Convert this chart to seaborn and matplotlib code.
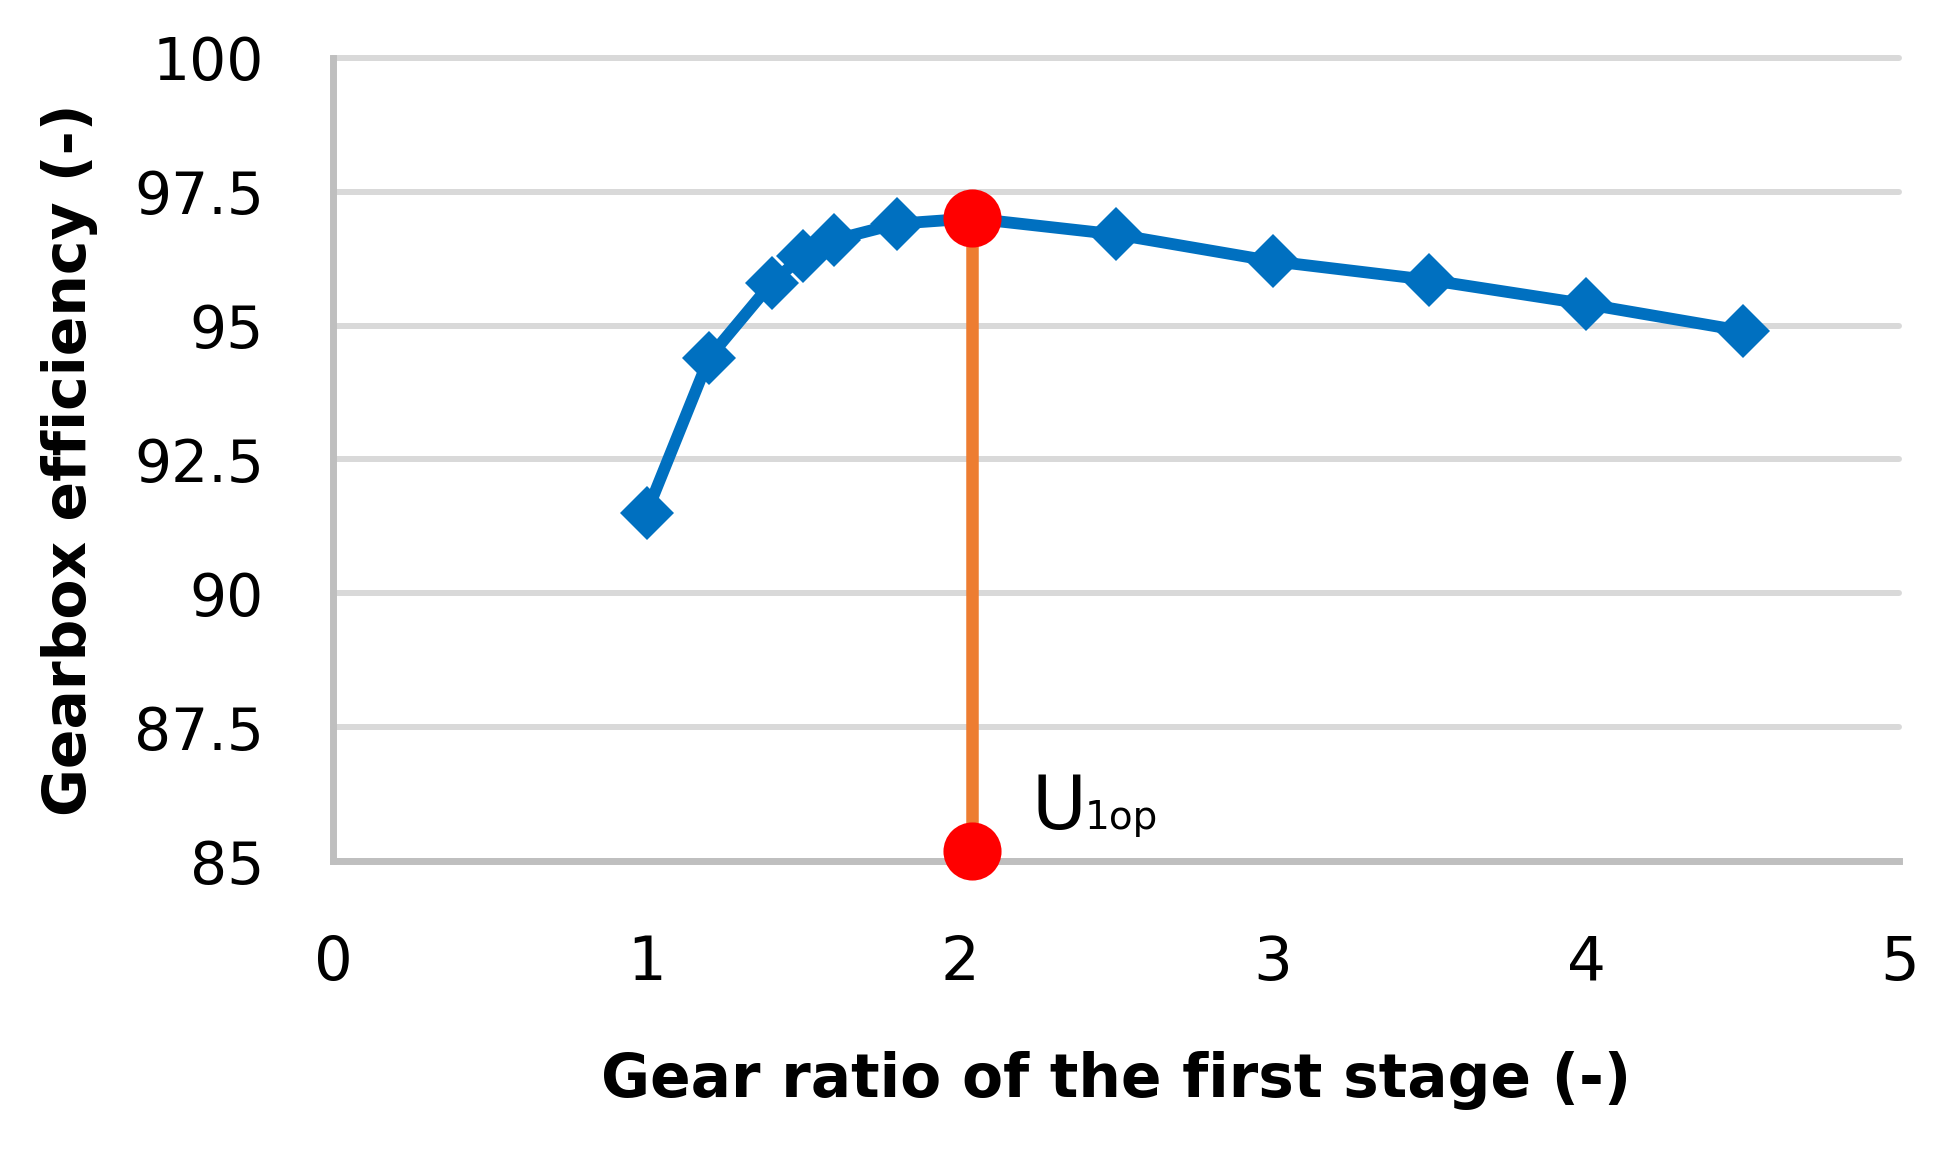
import numpy as np
import pandas as pd
import matplotlib
matplotlib.use('Agg')
import matplotlib.pyplot as plt
import seaborn as sns

# data
gear_ratio = [1.0, 1.2, 1.4, 1.5, 1.6, 1.8, 2.04, 2.5, 3.0, 3.5, 4.0, 4.5]
efficiency = [91.5, 94.4, 95.8, 96.3, 96.6, 96.9, 97.0, 96.7, 96.2, 95.85, 95.4, 94.9]
u_opt = 2.04
eff_opt = 97.0
eff_base = 85.2
y_ticks = [85, 87.5, 90, 92.5, 95, 97.5, 100]
y_ticklabels = ['85', '87.5', '90', '92.5', '95', '97.5', '100']
x_ticks = [0, 1, 2, 3, 4, 5]

sns.set_style('white')
plt.rcParams['font.family'] = ['DejaVu Sans']

fig, ax = plt.subplots(figsize=(19.38, 11.53), dpi=100)
fig.subplots_adjust(left=0.172, right=0.980, bottom=0.253, top=0.950)

df = pd.DataFrame({'ratio': gear_ratio, 'eff': efficiency})
sns.lineplot(data=df, x='ratio', y='eff', color='#0070C0', linewidth=8.5,
             marker='D', markersize=27, markeredgewidth=0, ax=ax, zorder=3)

# optimum marker line
ax.vlines(u_opt, eff_base, eff_opt, color='#ED7D31', linewidth=9, zorder=4)
sns.scatterplot(x=[u_opt, u_opt], y=[eff_opt, eff_base], s=1750, color='#FF0000',
                linewidth=0, ax=ax, zorder=5, clip_on=False)

ax.text(2.23, 85.6, 'U', fontsize=54, va='baseline', ha='left', color='#000000')
ax.text(2.40, 85.6, '1op', fontsize=28, va='baseline', ha='left', color='#000000')

ax.set_xlim(0, 5)
ax.set_ylim(85, 100)
ax.set_xticks(x_ticks)
ax.set_xticklabels([str(v) for v in x_ticks], fontsize=44)
ax.set_yticks(y_ticks)
ax.set_yticklabels(y_ticklabels, fontsize=42)
ax.tick_params(axis='both', length=0, colors='#000000')
ax.tick_params(axis='y', pad=50)
ax.tick_params(axis='x', pad=52)

ax.yaxis.grid(True, color='#d9d9d9', linewidth=4.3)
ax.xaxis.grid(False)
for gl in ax.get_ygridlines():
    gl.set_clip_on(False)

for s in ['top', 'right']:
    ax.spines[s].set_visible(False)
for s in ['left', 'bottom']:
    ax.spines[s].set_color('#bfbfbf')
    ax.spines[s].set_linewidth(5)

ax.set_xlabel('Gear ratio of the first stage (-)', fontsize=43, fontweight='bold',
              color='#000000', labelpad=42)
ax.set_ylabel('Gearbox efficiency (-)', fontsize=42, fontweight='bold',
              color='#000000', labelpad=26)

plt.savefig('out.png', dpi=100)
